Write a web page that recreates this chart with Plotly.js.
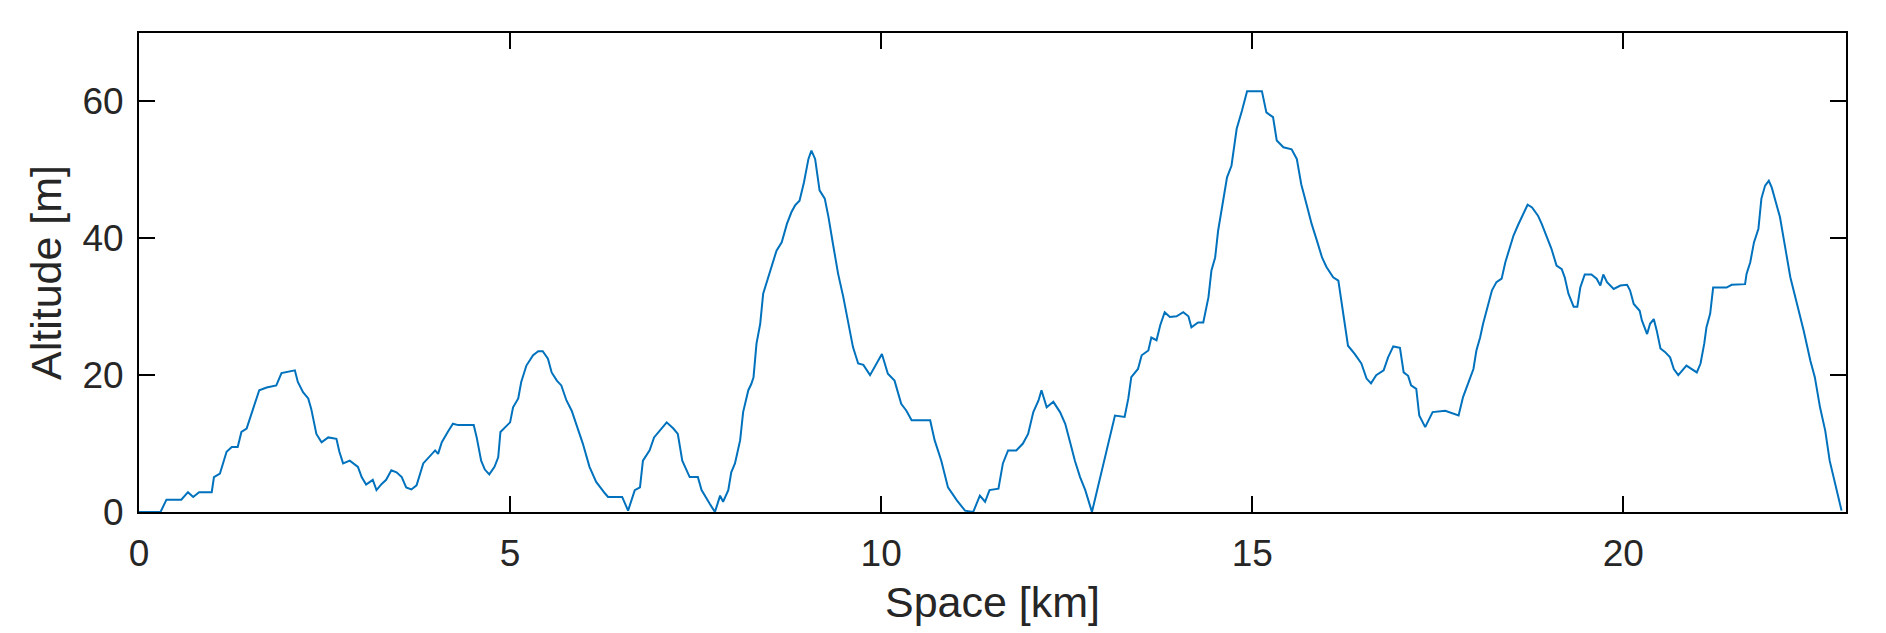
<!DOCTYPE html>
<html>
<head>
<meta charset="utf-8">
<script src="https://cdn.plot.ly/plotly-3.0.1.min.js"></script>
<style>
  html, body { margin: 0; padding: 0; background: #ffffff; }
  #chart { width: 1886px; height: 633px; }
</style>
</head>
<body>
<div id="chart"></div>
<script>
// Distance along the route [km]
const spaceKm = [
  0.00, 0.29, 0.37, 0.57, 0.66, 0.73, 0.81, 0.98, 1.01, 1.09,
  1.18, 1.25, 1.33, 1.38, 1.45, 1.54, 1.62, 1.72, 1.85, 1.92,
  2.10, 2.14, 2.21, 2.28, 2.32, 2.39, 2.46, 2.55, 2.66, 2.70,
  2.75, 2.84, 2.95, 3.00, 3.06, 3.15, 3.20, 3.27, 3.33, 3.40,
  3.47, 3.54, 3.60, 3.67, 3.74, 3.83, 3.91, 3.99, 4.03, 4.08,
  4.16, 4.23, 4.30, 4.51, 4.55, 4.61, 4.66, 4.72, 4.79, 4.84,
  4.87, 4.93, 5.00, 5.04, 5.11, 5.15, 5.22, 5.31, 5.38, 5.44,
  5.51, 5.56, 5.63, 5.69, 5.76, 5.83, 5.89, 5.98, 6.07, 6.16,
  6.28, 6.32, 6.51, 6.59, 6.68, 6.75, 6.79, 6.88, 6.94, 7.02,
  7.11, 7.20, 7.26, 7.32, 7.42, 7.53, 7.58, 7.69, 7.76, 7.83,
  7.87, 7.94, 7.98, 8.03, 8.10, 8.14, 8.21, 8.25, 8.28, 8.32,
  8.37, 8.41, 8.45, 8.54, 8.59, 8.66, 8.73, 8.79, 8.84, 8.90,
  8.96, 9.02, 9.06, 9.11, 9.17, 9.24, 9.29, 9.35, 9.42, 9.49,
  9.57, 9.62, 9.69, 9.76, 9.85, 9.94, 10.01, 10.09, 10.18, 10.27,
  10.34, 10.41, 10.66, 10.72, 10.81, 10.90, 11.02, 11.13, 11.24, 11.33,
  11.40, 11.46, 11.58, 11.64, 11.71, 11.82, 11.91, 11.98, 12.05, 12.12,
  12.16, 12.23, 12.32, 12.41, 12.48, 12.55, 12.61, 12.68, 12.75, 12.84,
  12.90, 12.99, 13.08, 13.15, 13.28, 13.33, 13.37, 13.46, 13.51, 13.60,
  13.64, 13.71, 13.76, 13.82, 13.89, 13.98, 14.07, 14.14, 14.18, 14.27,
  14.34, 14.41, 14.45, 14.50, 14.54, 14.61, 14.66, 14.72, 14.79, 14.86,
  14.93, 15.13, 15.19, 15.28, 15.33, 15.42, 15.53, 15.60, 15.66, 15.73,
  15.80, 15.87, 15.94, 16.00, 16.09, 16.16, 16.21, 16.25, 16.29, 16.38,
  16.47, 16.54, 16.60, 16.67, 16.77, 16.83, 16.90, 16.99, 17.04, 17.10,
  17.14, 17.21, 17.25, 17.33, 17.43, 17.60, 17.66, 17.78, 17.84, 17.91,
  17.98, 18.02, 18.07, 18.11, 18.16, 18.23, 18.29, 18.36, 18.41, 18.47,
  18.52, 18.58, 18.63, 18.71, 18.77, 18.85, 18.90, 18.97, 19.03, 19.10,
  19.17, 19.21, 19.26, 19.33, 19.38, 19.42, 19.48, 19.57, 19.64, 19.69,
  19.73, 19.78, 19.87, 19.96, 20.05, 20.09, 20.14, 20.22, 20.25, 20.32,
  20.36, 20.41, 20.45, 20.50, 20.56, 20.63, 20.68, 20.74, 20.85, 20.99,
  21.04, 21.09, 21.12, 21.17, 21.21, 21.39, 21.46, 21.64, 21.66, 21.71,
  21.76, 21.82, 21.86, 21.91, 21.96, 22.00, 22.04, 22.11, 22.18, 22.25,
  22.34, 22.43, 22.52, 22.58, 22.65, 22.72, 22.78, 22.85, 22.94
];

// Altitude [m]
const altitudeM = [
  0.0, 0.0, 1.8, 1.8, 2.9, 2.2, 2.9, 2.9, 5.1, 5.6,
  8.8, 9.5, 9.5, 11.7, 12.2, 15.1, 17.8, 18.2, 18.5, 20.3,
  20.7, 19.0, 17.5, 16.6, 15.1, 11.4, 10.2, 10.9, 10.7, 8.8,
  7.1, 7.5, 6.6, 5.1, 4.0, 4.7, 3.2, 4.1, 4.7, 6.1,
  5.8, 5.1, 3.6, 3.3, 3.9, 7.1, 8.0, 9.0, 8.5, 10.2,
  11.7, 12.9, 12.7, 12.7, 10.9, 7.5, 6.2, 5.5, 6.6, 8.0,
  11.7, 12.4, 13.1, 15.3, 16.6, 19.0, 21.4, 22.9, 23.5, 23.5,
  22.4, 20.4, 19.2, 18.5, 16.3, 14.8, 12.9, 10.0, 6.6, 4.4,
  2.7, 2.2, 2.2, 0.2, 3.2, 3.6, 7.5, 9.0, 10.9, 11.9,
  13.1, 12.2, 11.4, 7.5, 5.1, 5.1, 3.2, 1.2, 0.0, 2.4,
  1.5, 3.2, 5.8, 7.1, 10.5, 14.6, 17.8, 18.7, 19.7, 24.6,
  27.5, 31.9, 33.3, 36.3, 38.2, 39.4, 42.1, 43.8, 44.8, 45.5,
  48.2, 51.6, 52.8, 51.6, 47.0, 45.8, 43.1, 39.2, 34.8, 31.4,
  27.0, 24.1, 21.7, 21.5, 20.0, 21.7, 23.1, 20.2, 19.2, 15.8,
  14.8, 13.4, 13.4, 10.5, 7.5, 3.6, 1.7, 0.2, 0.0, 2.4,
  1.5, 3.2, 3.4, 7.1, 9.0, 9.0, 10.0, 11.4, 14.6, 16.3,
  17.8, 15.3, 16.1, 14.6, 12.9, 10.0, 7.5, 5.1, 3.2, 0.0,
  2.7, 6.6, 10.9, 14.1, 13.9, 16.6, 19.7, 20.9, 22.9, 23.6,
  25.5, 25.1, 27.3, 29.2, 28.5, 28.6, 29.2, 28.6, 27.0, 27.7,
  27.7, 31.4, 35.3, 37.2, 41.1, 45.5, 48.9, 50.6, 56.0, 58.6,
  61.5, 61.5, 58.4, 57.7, 54.3, 53.3, 53.0, 51.6, 47.9, 45.0,
  42.1, 39.7, 37.2, 35.8, 34.3, 33.8, 30.4, 27.5, 24.3, 23.1,
  21.7, 19.5, 18.8, 20.0, 20.7, 22.6, 24.2, 24.0, 20.4, 19.9,
  18.5, 18.0, 14.1, 12.4, 14.6, 14.8, 14.6, 14.1, 16.8, 19.0,
  20.9, 23.6, 25.5, 27.5, 29.4, 32.4, 33.6, 34.1, 36.5, 38.7,
  40.4, 41.9, 43.1, 44.9, 44.5, 43.3, 42.1, 40.2, 38.5, 36.0,
  35.5, 34.3, 31.9, 30.0, 30.0, 32.8, 34.7, 34.7, 34.1, 33.1,
  34.7, 33.6, 32.6, 33.1, 33.2, 32.4, 30.4, 29.4, 28.0, 26.0,
  27.5, 28.2, 26.5, 23.9, 23.4, 22.6, 20.9, 20.0, 21.4, 20.4,
  21.7, 24.6, 27.0, 29.0, 32.8, 32.8, 33.2, 33.3, 34.8, 36.5,
  39.4, 41.4, 45.8, 47.7, 48.4, 47.4, 45.8, 43.1, 38.7, 34.3,
  30.4, 26.5, 22.1, 19.7, 15.3, 11.9, 7.5, 4.1, 0.2
];

const xTicks = [0, 5, 10, 15, 20];
const yTicks = [0, 20, 40, 60];

const FONT = '"Liberation Sans", Arial, Helvetica, sans-serif';
const TEXT_COLOR = '#262626';

const trace = {
  x: spaceKm,
  y: altitudeM,
  type: 'scatter',
  mode: 'lines',
  line: { color: '#0072BD', width: 2 },
  hoverinfo: 'x+y'
};

const axisCommon = {
  showline: true,
  linecolor: '#000000',
  linewidth: 2,
  mirror: 'ticks',
  ticks: 'inside',
  ticklen: 16,
  tickwidth: 2,
  tickcolor: '#000000',
  showgrid: false,
  zeroline: false,
  tickfont: { family: FONT, size: 37, color: TEXT_COLOR },
  layer: 'below traces'
};

const layout = {
  width: 1886,
  height: 633,
  margin: { l: 139, r: 40, t: 33, b: 121, pad: 0 },
  paper_bgcolor: '#ffffff',
  plot_bgcolor: '#ffffff',
  showlegend: false,
  xaxis: Object.assign({}, axisCommon, {
    range: [0, 23],
    tickmode: 'array',
    tickvals: xTicks,
    ticktext: xTicks.map(String),
    ticklabelstandoff: 8,
    title: { text: 'Space [km]', font: { family: FONT, size: 43, color: TEXT_COLOR }, standoff: 13 }
  }),
  yaxis: Object.assign({}, axisCommon, {
    range: [0, 70],
    tickmode: 'array',
    tickvals: yTicks,
    ticktext: yTicks.map(String),
    ticklabelstandoff: 6,
    title: { text: 'Altitude [m]', font: { family: FONT, size: 43, color: TEXT_COLOR }, standoff: 7 }
  })
};

Plotly.newPlot('chart', [trace], layout, { displayModeBar: false, staticPlot: true });
</script>
</body>
</html>
